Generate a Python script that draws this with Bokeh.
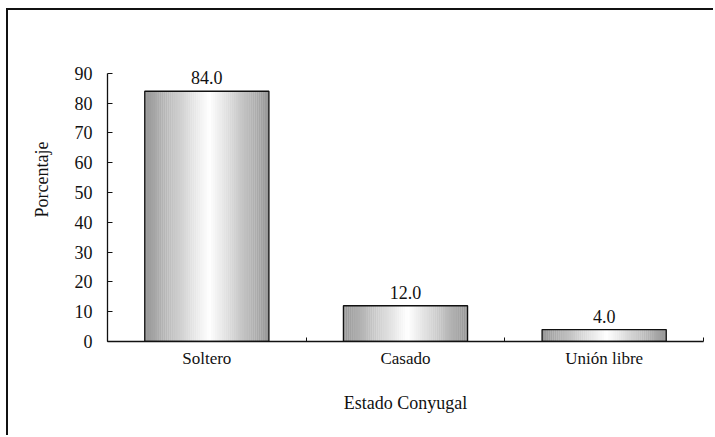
from bokeh.plotting import figure
from bokeh.models import FixedTicker, Title, ColumnDataSource, Range1d
from bokeh.core.properties import value
from bokeh.embed import file_html
from bokeh.resources import INLINE

categories = ["Soltero", "Casado", "Unión libre"]
percentages = [84.0, 12.0, 4.0]
y_ticks = [0, 10, 20, 30, 40, 50, 60, 70, 80, 90]
x_title = "Estado Conyugal"
y_title = "Porcentaje"

FONT = "'Liberation Serif', 'Times New Roman', serif"
FS = "17px"
FS_T = "18px"
BAR_W = 0.625
N_SLICES = 60
Y_AXIS_MAX = 90
Y_VIEW_MAX = 95

centers = [i + 0.5 for i in range(len(categories))]

p = figure(width=707, height=427, output_backend="svg", toolbar_location=None,
           x_range=Range1d(0, len(categories)), y_range=Range1d(0, Y_VIEW_MAX),
           min_border_left=99, min_border_right=12, min_border_top=48, min_border_bottom=96)
p.styles = {"border-left": "2px solid #111", "border-top": "2px solid #111",
            "margin-left": "6px", "margin-top": "8px"}
p.outline_line_color = None
p.grid.grid_line_color = None
p.background_fill_color = "white"
p.border_fill_color = "white"

# gradient bars: vertical slices
xs, tops, cols = [], [], []
sw = BAR_W / N_SLICES
for c, v in zip(centers, percentages):
    for k in range(N_SLICES):
        t = (k + 0.5) / N_SLICES
        if t < 0.52:
            d = (0.52 - t) / 0.52
        else:
            d = (t - 0.52) / 0.48
        g = int(round(150 + 105 * (1 - d)))
        g = max(0, min(255, g))
        xs.append(c - BAR_W / 2 + (k + 0.5) * sw)
        tops.append(v)
        cols.append("#%02x%02x%02x" % (g, g, g))
p.vbar(x=xs, top=tops, width=sw * 1.1, bottom=0, fill_color=cols, line_color=None)

src = ColumnDataSource(dict(x=centers, top=percentages,
                            lab=[f"{v:.1f}" for v in percentages]))
p.vbar(x="x", top="top", width=BAR_W, bottom=0, source=src,
       fill_color=None, line_color="#111111", line_width=1.3)
p.text(x="x", y="top", text="lab", source=src, text_align="center",
       text_baseline="bottom", y_offset=-7, text_font=value(FONT),
       text_font_size=value(FS_T), text_color="#111111")

# axes
xa = p.xaxis[0]
xa.ticker = FixedTicker(ticks=centers, minor_ticks=list(range(len(categories) + 1)))
xa.major_label_overrides = {c: n for c, n in zip(centers, categories)}
xa.major_tick_in = 0
xa.major_tick_out = 0
xa.minor_tick_in = 4
xa.minor_tick_out = 0
xa.axis_label = x_title
xa.axis_label_standoff = 22

ya = p.yaxis[0]
ya.ticker = FixedTicker(ticks=y_ticks)
ya.bounds = (0, Y_AXIS_MAX)
ya.major_tick_in = 5
ya.major_tick_out = 0
ya.major_label_standoff = 15

for ax in (xa, ya):
    ax.axis_line_color = "#111111"
    ax.axis_line_width = 1.3
    ax.major_tick_line_color = "#111111"
    ax.major_label_text_font = FONT
    ax.major_label_text_color = "#111111"
    ax.axis_label_text_font = FONT
    ax.axis_label_text_font_size = FS_T
    ax.axis_label_text_font_style = "normal"
    ax.axis_label_text_color = "#111111"
xa.major_label_text_font_size = FS
ya.major_label_text_font_size = FS_T
xa.minor_tick_line_color = "#111111"
ya.minor_tick_line_color = None
xa.major_label_standoff = 7

# y-axis title: left panel, shifted towards the top like the reference
yt = Title(text=y_title, align="right", offset=83, standoff=40,
           text_font=FONT, text_font_size=FS_T, text_font_style="normal",
           text_color="#111111")
p.add_layout(yt, "left")

open("out.html", "w").write(file_html(p, INLINE))
